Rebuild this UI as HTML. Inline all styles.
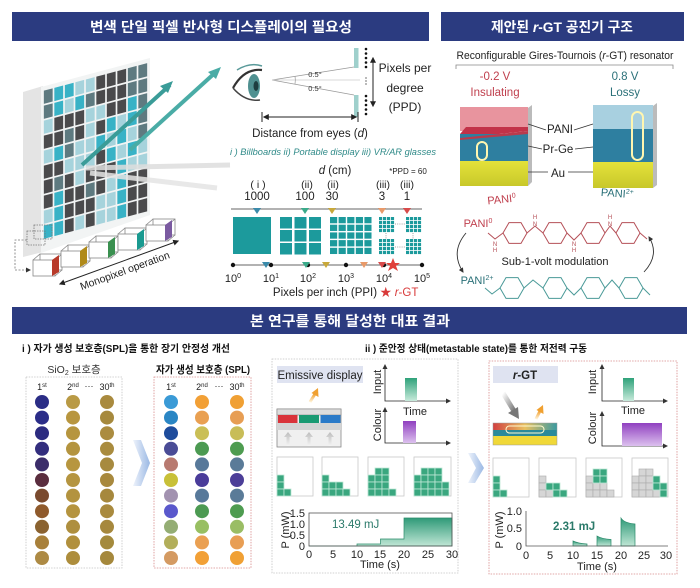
<!DOCTYPE html>
<html><head><meta charset="utf-8">
<style>
html,body{margin:0;padding:0;background:#fff;}
svg{display:block;}
text{font-family:"Liberation Sans","Noto Sans CJK KR",sans-serif;}
.D{fill:#4a4a4c}.S{fill:#5e7a80}.C{fill:#38b2c6}.L{fill:#a6d3dc}
.g{fill:#3aa77f;stroke:#bfe8d6;stroke-width:.8}
.y{fill:#d6d6d6;stroke:#aaa;stroke-width:.6}
.pb{fill:#fff;stroke:#c8c8c8;stroke-width:.8}
</style></head><body>
<svg width="700" height="588" viewBox="0 0 700 588" xmlns="http://www.w3.org/2000/svg">
<defs>
<rect id="c" width=".84" height=".88"/>
<rect id="b" width="7" height="7"/>
<marker id="ah" viewBox="0 0 10 10" refX="8" refY="5" markerWidth="6" markerHeight="6" markerUnits="userSpaceOnUse" orient="auto-start-reverse"><path d="M0,0L10,5L0,10z" fill="#222"/></marker>
<marker id="ahs" viewBox="0 0 10 10" refX="8" refY="5" markerWidth="5" markerHeight="5" markerUnits="userSpaceOnUse" orient="auto-start-reverse"><path d="M0,0L10,5L0,10z" fill="#333"/></marker>
<pattern id="p5" width="8.6" height="7.7" patternUnits="userSpaceOnUse"><rect width="7.2" height="6.3" fill="#1c9a9c"/></pattern>
<pattern id="sm" width="4" height="4" patternUnits="userSpaceOnUse"><rect width="3.2" height="3.2" fill="#1c9a9c"/></pattern>
<linearGradient id="gr" x1="0" y1="0" x2="0" y2="1"><stop offset="0" stop-color="#2fa27a"/><stop offset="1" stop-color="#c8eadb"/></linearGradient>
<linearGradient id="pu" x1="0" y1="0" x2="0" y2="1"><stop offset="0" stop-color="#9040c0"/><stop offset="1" stop-color="#dcc0ee"/></linearGradient>
<linearGradient id="chev" x1="0" y1="0" x2="1" y2="0"><stop offset="0" stop-color="#eef3fb"/><stop offset="1" stop-color="#9ab8e4"/></linearGradient>
<linearGradient id="yel" x1="0" y1="0" x2="0" y2="1"><stop offset="0" stop-color="#e4e23a"/><stop offset="1" stop-color="#c8c82a"/></linearGradient>
<linearGradient id="top" x1="0" y1="0" x2="1" y2="0"><stop offset="0" stop-color="#d24040"/><stop offset=".5" stop-color="#e8c060"/><stop offset="1" stop-color="#3a9aa0"/></linearGradient>
<linearGradient id="pf" x1="0" y1="0" x2="0" y2="1"><stop offset="0" stop-color="#2f9a78"/><stop offset="1" stop-color="#bfe6d5"/></linearGradient>
<linearGradient id="gra" x1="0" y1="0" x2="1" y2="1"><stop offset="0" stop-color="#ffffff"/><stop offset="1" stop-color="#777"/></linearGradient>
<linearGradient id="ua" x1="0" y1="1" x2="0" y2="0"><stop offset="0" stop-color="#f4f4f4"/><stop offset="1" stop-color="#bcbcbc"/></linearGradient>
<linearGradient id="oa" x1="0" y1="1" x2="0" y2="0"><stop offset="0" stop-color="#fff3d8"/><stop offset="1" stop-color="#f0a030"/></linearGradient>
</defs>

<!-- Headers -->
<rect x="12" y="12" width="417" height="29" fill="#2b3b80"/>
<text x="221" y="32" fill="#fff" font-size="14" font-weight="bold" text-anchor="middle" textLength="262" lengthAdjust="spacingAndGlyphs">변색 단일 픽셀 반사형 디스플레이의 필요성</text>
<rect x="441" y="12" width="243" height="29" fill="#2b3b80"/>
<text x="562" y="32" fill="#fff" font-size="14" font-weight="bold" text-anchor="middle" textLength="142" lengthAdjust="spacingAndGlyphs">제안된 <tspan font-style="italic">r</tspan>-GT 공진기 구조</text>
<rect x="12" y="307" width="675" height="27" fill="#2b3b80"/>
<text x="350" y="326" fill="#fff" font-size="14" font-weight="bold" text-anchor="middle" textLength="200" lengthAdjust="spacingAndGlyphs">본 연구를 통해 달성한 대표 결과</text>

<!-- Display panel -->
<polygon points="23,92 43,86 43,252 23,257" fill="#e4e4e4"/>
<polygon points="41,87 150,58 150,215 41,253" fill="#f2f4f4"/>
<g transform="matrix(10.5,-2.8,0,15,43,90)">
<use href="#c" x=".08" y=".06" class="S"/><use href="#c" x="1.08" y=".06" class="C"/><use href="#c" x="2.08" y=".06" class="C"/><use href="#c" x="3.08" y=".06" class="L"/><use href="#c" x="4.08" y=".06" class="L"/><use href="#c" x="5.08" y=".06" class="D"/><use href="#c" x="6.08" y=".06" class="D"/><use href="#c" x="7.08" y=".06" class="D"/><use href="#c" x="8.08" y=".06" class="S"/><use href="#c" x="9.08" y=".06" class="S"/>
<use href="#c" x=".08" y="1.06" class="S"/><use href="#c" x="1.08" y="1.06" class="C"/><use href="#c" x="2.08" y="1.06" class="L"/><use href="#c" x="3.08" y="1.06" class="C"/><use href="#c" x="4.08" y="1.06" class="S"/><use href="#c" x="5.08" y="1.06" class="D"/><use href="#c" x="6.08" y="1.06" class="D"/><use href="#c" x="7.08" y="1.06" class="D"/><use href="#c" x="8.08" y="1.06" class="S"/><use href="#c" x="9.08" y="1.06" class="S"/>
<use href="#c" x=".08" y="2.06" class="L"/><use href="#c" x="1.08" y="2.06" class="D"/><use href="#c" x="2.08" y="2.06" class="D"/><use href="#c" x="3.08" y="2.06" class="D"/><use href="#c" x="4.08" y="2.06" class="L"/><use href="#c" x="5.08" y="2.06" class="L"/><use href="#c" x="6.08" y="2.06" class="D"/><use href="#c" x="7.08" y="2.06" class="D"/><use href="#c" x="8.08" y="2.06" class="C"/><use href="#c" x="9.08" y="2.06" class="S"/>
<use href="#c" x=".08" y="3.06" class="D"/><use href="#c" x="1.08" y="3.06" class="D"/><use href="#c" x="2.08" y="3.06" class="S"/><use href="#c" x="3.08" y="3.06" class="D"/><use href="#c" x="4.08" y="3.06" class="L"/><use href="#c" x="5.08" y="3.06" class="D"/><use href="#c" x="6.08" y="3.06" class="C"/><use href="#c" x="7.08" y="3.06" class="L"/><use href="#c" x="8.08" y="3.06" class="C"/><use href="#c" x="9.08" y="3.06" class="S"/>
<use href="#c" x=".08" y="4.06" class="L"/><use href="#c" x="1.08" y="4.06" class="C"/><use href="#c" x="2.08" y="4.06" class="S"/><use href="#c" x="3.08" y="4.06" class="L"/><use href="#c" x="4.08" y="4.06" class="L"/><use href="#c" x="5.08" y="4.06" class="C"/><use href="#c" x="6.08" y="4.06" class="L"/><use href="#c" x="7.08" y="4.06" class="C"/><use href="#c" x="8.08" y="4.06" class="L"/><use href="#c" x="9.08" y="4.06" class="S"/>
<use href="#c" x=".08" y="5.06" class="D"/><use href="#c" x="1.08" y="5.06" class="D"/><use href="#c" x="2.08" y="5.06" class="L"/><use href="#c" x="3.08" y="5.06" class="L"/><use href="#c" x="4.08" y="5.06" class="L"/><use href="#c" x="5.08" y="5.06" class="D"/><use href="#c" x="6.08" y="5.06" class="C"/><use href="#c" x="7.08" y="5.06" class="L"/><use href="#c" x="8.08" y="5.06" class="C"/><use href="#c" x="9.08" y="5.06" class="L"/>
<use href="#c" x=".08" y="6.06" class="D"/><use href="#c" x="1.08" y="6.06" class="S"/><use href="#c" x="2.08" y="6.06" class="D"/><use href="#c" x="3.08" y="6.06" class="L"/><use href="#c" x="4.08" y="6.06" class="D"/><use href="#c" x="5.08" y="6.06" class="D"/><use href="#c" x="6.08" y="6.06" class="D"/><use href="#c" x="7.08" y="6.06" class="C"/><use href="#c" x="8.08" y="6.06" class="L"/><use href="#c" x="9.08" y="6.06" class="L"/>
<use href="#c" x=".08" y="7.06" class="D"/><use href="#c" x="1.08" y="7.06" class="C"/><use href="#c" x="2.08" y="7.06" class="D"/><use href="#c" x="3.08" y="7.06" class="D"/><use href="#c" x="4.08" y="7.06" class="S"/><use href="#c" x="5.08" y="7.06" class="D"/><use href="#c" x="6.08" y="7.06" class="L"/><use href="#c" x="7.08" y="7.06" class="C"/><use href="#c" x="8.08" y="7.06" class="D"/><use href="#c" x="9.08" y="7.06" class="D"/>
<use href="#c" x=".08" y="8.06" class="L"/><use href="#c" x="1.08" y="8.06" class="C"/><use href="#c" x="2.08" y="8.06" class="D"/><use href="#c" x="3.08" y="8.06" class="D"/><use href="#c" x="4.08" y="8.06" class="D"/><use href="#c" x="5.08" y="8.06" class="L"/><use href="#c" x="6.08" y="8.06" class="L"/><use href="#c" x="7.08" y="8.06" class="C"/><use href="#c" x="8.08" y="8.06" class="D"/><use href="#c" x="9.08" y="8.06" class="D"/>
<use href="#c" x=".08" y="9.06" class="C"/><use href="#c" x="1.08" y="9.06" class="C"/><use href="#c" x="2.08" y="9.06" class="D"/><use href="#c" x="3.08" y="9.06" class="L"/><use href="#c" x="4.08" y="9.06" class="D"/><use href="#c" x="5.08" y="9.06" class="L"/><use href="#c" x="6.08" y="9.06" class="L"/><use href="#c" x="7.08" y="9.06" class="C"/><use href="#c" x="8.08" y="9.06" class="D"/><use href="#c" x="9.08" y="9.06" class="D"/>
</g>
<!-- faint arrows -->
<line x1="86" y1="168" x2="230" y2="165" stroke="#dedede" stroke-width="5" opacity=".85"/>
<line x1="90" y1="173" x2="217" y2="188" stroke="#e4e4e4" stroke-width="5" opacity=".85"/>
<!-- teal arrows -->
<line x1="82" y1="165" x2="170" y2="85" stroke="#3a9c98" stroke-width="4"/>
<polygon points="173,81 160,86 168,93" fill="#3a9c98"/>
<line x1="130" y1="150" x2="217" y2="71" stroke="#4aaca6" stroke-width="4"/>
<polygon points="221,67 208,72 216,79" fill="#4aaca6"/>

<!-- monopixel cubes -->
<g fill="none" stroke="#777" stroke-width=".8">
<rect x="27" y="231" width="18" height="14" stroke-dasharray="1.5,1"/><rect x="34" y="225" width="18" height="14" stroke-dasharray="1.5,1"/>
<polyline points="27,240 15,240 15,270 30,270" stroke-dasharray="2,1.5" marker-end="url(#ahs)"/>
</g>
<g stroke="#888" stroke-width=".8" fill="none">
<rect x="40" y="254" width="22" height="16"/><rect x="33" y="260" width="22" height="16" fill="#fff"/><line x1="33" y1="260" x2="40" y2="254"/><line x1="55" y1="260" x2="62" y2="254"/><line x1="55" y1="276" x2="62" y2="270"/>
<rect x="68" y="245" width="22" height="16"/><rect x="61" y="251" width="22" height="16" fill="#fff"/><line x1="61" y1="251" x2="68" y2="245"/><line x1="83" y1="251" x2="90" y2="245"/><line x1="83" y1="267" x2="90" y2="261"/>
<rect x="96" y="236" width="22" height="16"/><rect x="89" y="242" width="22" height="16" fill="#fff"/><line x1="89" y1="242" x2="96" y2="236"/><line x1="111" y1="242" x2="118" y2="236"/><line x1="111" y1="258" x2="118" y2="252"/>
<rect x="125" y="228" width="22" height="16"/><rect x="118" y="234" width="22" height="16" fill="#fff"/><line x1="118" y1="234" x2="125" y2="228"/><line x1="140" y1="234" x2="147" y2="228"/><line x1="140" y1="250" x2="147" y2="244"/>
<rect x="153" y="219" width="22" height="16"/><rect x="146" y="225" width="22" height="16" fill="#fff"/><line x1="146" y1="225" x2="153" y2="219"/><line x1="168" y1="225" x2="175" y2="219"/><line x1="168" y1="241" x2="175" y2="235"/>
</g>
<polygon points="52,260 59,255 59,272 52,276" fill="#b83a2a"/>
<polygon points="80,251 87,246 87,263 80,267" fill="#b08a1a"/>
<polygon points="108,242 115,237 115,254 108,258" fill="#3a9050"/>
<polygon points="137,234 144,229 144,246 137,250" fill="#1a9a90"/>
<polygon points="165,225 172,220 172,237 165,241" fill="#7a5aa0"/>
<line x1="60" y1="284" x2="178" y2="241" stroke="#222" stroke-width="1" marker-start="url(#ah)" marker-end="url(#ah)"/>
<text x="126" y="274" font-size="10.5" text-anchor="middle" fill="#222" transform="rotate(-20 126 274)">Monopixel operation</text>

<!-- Eye -->
<path d="M233,88 Q244,68 262,70" fill="none" stroke="#333" stroke-width="2.2"/>
<path d="M237,70 Q250,62 262,66" fill="none" stroke="#5a9a9a" stroke-width="1.5"/>
<path d="M233,88 Q245,102 260,100" fill="none" stroke="#444" stroke-width="1.5"/>
<ellipse cx="254" cy="86" rx="6" ry="12" fill="#4f9090"/>
<ellipse cx="256" cy="86" rx="2.5" ry="5" fill="#1e3e40"/>
<!-- angle lines -->
<g stroke="#999" stroke-width=".7" fill="none">
<line x1="272" y1="80" x2="354" y2="67"/><line x1="272" y1="80" x2="354" y2="95"/><line x1="272" y1="80" x2="360" y2="80" stroke="#ccc"/>
<path d="M295,76 A24 24 0 0 1 295,84"/>
</g>
<text x="315" y="77" font-size="7.5" text-anchor="middle" fill="#333">0.5°</text>
<text x="315" y="91" font-size="7.5" text-anchor="middle" fill="#333">0.5°</text>
<rect x="354" y="48" width="4.5" height="20" fill="#9fd0cc"/>
<rect x="354" y="95" width="4.5" height="22" fill="#9fd0cc"/>
<g fill="#111">
<circle cx="366" cy="49" r="1.3"/><circle cx="366" cy="53.5" r="1.3"/><circle cx="366" cy="58" r="1.3"/><circle cx="366" cy="62.5" r="1.3"/><circle cx="366" cy="67" r="1.3"/>
<circle cx="366" cy="78" r=".6"/><circle cx="366" cy="81" r=".6"/><circle cx="366" cy="84" r=".6"/>
<circle cx="366" cy="96" r="1.3"/><circle cx="366" cy="100.5" r="1.3"/><circle cx="366" cy="105" r="1.3"/><circle cx="366" cy="109.5" r="1.3"/><circle cx="366" cy="114" r="1.3"/>
</g>
<line x1="373" y1="58" x2="373" y2="106" stroke="#222" stroke-width="1" marker-start="url(#ah)" marker-end="url(#ah)"/>
<text x="405" y="72" font-size="12" text-anchor="middle" fill="#222">Pixels per</text>
<text x="405" y="92" font-size="12" text-anchor="middle" fill="#222">degree</text>
<text x="405" y="111" font-size="12" text-anchor="middle" fill="#222">(PPD)</text>
<line x1="264" y1="117" x2="356" y2="117" stroke="#222" stroke-width="1" marker-start="url(#ah)" marker-end="url(#ah)"/>
<line x1="262" y1="112" x2="262" y2="122" stroke="#222" stroke-width="1"/>
<line x1="358" y1="112" x2="358" y2="122" stroke="#222" stroke-width="1"/>
<text x="310" y="137" font-size="11.5" text-anchor="middle" fill="#222">Distance from eyes (<tspan font-style="italic">d</tspan>)</text>
<text x="230" y="155" font-size="9" font-style="italic" fill="#2f8a88" textLength="206" lengthAdjust="spacingAndGlyphs">i ) Billboards  ii) Portable display  iii) VR/AR glasses</text>

<!-- PPI scale -->
<text x="335" y="174" font-size="11.5" text-anchor="middle" fill="#222"><tspan font-style="italic">d</tspan> (cm)</text>
<text x="408" y="174" font-size="8" text-anchor="middle" fill="#222">*PPD = 60</text>
<g font-size="10.5" text-anchor="middle" fill="#222">
<text x="258" y="188">( i )</text><text x="307" y="188">(ii)</text><text x="333" y="188">(ii)</text><text x="383" y="188">(iii)</text><text x="407" y="188">(iii)</text>
</g>
<g font-size="11.5" text-anchor="middle" fill="#222">
<text x="257" y="200">1000</text><text x="305" y="200">100</text><text x="332" y="200">30</text><text x="382" y="200">3</text><text x="407" y="200">1</text>
</g>
<line x1="231" y1="209" x2="422" y2="209" stroke="#666" stroke-width="1"/>
<polygon points="253,208 261,208 257,214" fill="#3a8aaa"/>
<polygon points="301,208 309,208 305,214" fill="#3aaa8a"/>
<polygon points="328,208 336,208 332,214" fill="#c8a83a"/>
<polygon points="378,208 386,208 382,214" fill="#e89a6a"/>
<polygon points="403,208 411,208 407,214" fill="#d84a4a"/>
<rect x="233" y="217" width="38" height="37" fill="#1c9a9c"/>
<g fill="#1c9a9c">
<rect x="280" y="217" width="12" height="11.5"/><rect x="294.5" y="217" width="12" height="11.5"/><rect x="309" y="217" width="12" height="11.5"/>
<rect x="280" y="230" width="12" height="11.5"/><rect x="294.5" y="230" width="12" height="11.5"/><rect x="309" y="230" width="12" height="11.5"/>
<rect x="280" y="243" width="12" height="11.5"/><rect x="294.5" y="243" width="12" height="11.5"/><rect x="309" y="243" width="12" height="11.5"/>
</g>
<g transform="translate(330 217)"><rect width="41.6" height="37.1" fill="url(#p5)"/></g>
<g transform="translate(379 217)"><rect width="15.2" height="15.2" fill="url(#sm)"/></g>
<g transform="translate(406 217)"><rect width="15.2" height="15.2" fill="url(#sm)"/></g>
<g transform="translate(379 239)"><rect width="15.2" height="15.2" fill="url(#sm)"/></g>
<g transform="translate(406 239)"><rect width="15.2" height="15.2" fill="url(#sm)"/></g>
<g stroke="#888" stroke-width=".8" stroke-dasharray="1,1.2">
<line x1="395" y1="224" x2="405" y2="224"/><line x1="395" y1="247" x2="405" y2="247"/><line x1="386" y1="233" x2="386" y2="239"/><line x1="413" y1="233" x2="413" y2="239"/>
</g>
<line x1="231" y1="265" x2="422" y2="265" stroke="#666" stroke-width="1"/>
<g fill="#111"><circle cx="233" cy="265" r="2.2"/><circle cx="271" cy="265" r="2.2"/><circle cx="308" cy="265" r="2.2"/><circle cx="346" cy="265" r="2.2"/><circle cx="384" cy="265" r="2.2"/><circle cx="422" cy="265" r="2.2"/></g>
<polygon points="262,262 270,262 266,268" fill="#3a8aaa"/>
<polygon points="302,262 310,262 306,268" fill="#3aaa8a"/>
<polygon points="322,262 330,262 326,268" fill="#c8a83a"/>
<polygon points="360,262 368,262 364,268" fill="#e89a6a"/>
<polygon points="378,262 386,262 382,268" fill="#d84a4a"/>
<polygon points="393,258 395,263 400,263 396,266 398,271 393,268 388,271 390,266 386,263 391,263" fill="#e0403a"/>
<g font-size="11" text-anchor="middle" fill="#222">
<text x="233" y="282">10<tspan font-size="7" dy="-4">0</tspan></text>
<text x="271" y="282">10<tspan font-size="7" dy="-4">1</tspan></text>
<text x="308" y="282">10<tspan font-size="7" dy="-4">2</tspan></text>
<text x="346" y="282">10<tspan font-size="7" dy="-4">3</tspan></text>
<text x="384" y="282">10<tspan font-size="7" dy="-4">4</tspan></text>
<text x="422" y="282">10<tspan font-size="7" dy="-4">5</tspan></text>
</g>
<text x="325" y="296" font-size="11.5" text-anchor="middle" fill="#222">Pixels per inch (PPI)</text>
<text x="380" y="296" font-size="11.5" fill="#d83a3a">★ <tspan font-style="italic">r</tspan>-GT</text>

<!-- r-GT structure -->
<text x="565" y="59" font-size="11" text-anchor="middle" fill="#222" textLength="217" lengthAdjust="spacingAndGlyphs">Reconfigurable Gires-Tournois (<tspan font-style="italic">r</tspan>-GT) resonator</text>
<polyline points="456,69 456,65 673,65 673,69" fill="none" stroke="#888" stroke-width=".8"/>
<text x="495" y="80" font-size="11.5" text-anchor="middle" fill="#c0404e">-0.2 V</text>
<text x="495" y="96" font-size="11.5" text-anchor="middle" fill="#c0404e">Insulating</text>
<text x="625" y="80" font-size="11.5" text-anchor="middle" fill="#2a7078">0.8 V</text>
<text x="625" y="96" font-size="11.5" text-anchor="middle" fill="#2a7078">Lossy</text>
<!-- left block -->
<polygon points="528,108 532,105 532,182 528,186" fill="#bbb"/>
<rect x="460" y="107" width="68" height="24" fill="#e8949e"/>
<polygon points="460,134 466,127 528,127 528,131 460,138" fill="#c23248"/>
<rect x="460" y="134" width="68" height="28" fill="#2e7fa0"/>
<polygon points="460,138 528,131 528,134 460,140" fill="#b93a4c"/>
<rect x="460" y="161" width="68" height="25" fill="url(#yel)"/>
<rect x="477" y="142" width="10" height="18" rx="5" fill="none" stroke="#fff6b0" stroke-width="2"/>
<!-- right block -->
<polygon points="653,106 657,103 657,185 653,188" fill="#bbb"/>
<rect x="593" y="105" width="60" height="24" fill="#a8d0e0"/>
<rect x="593" y="129" width="60" height="33" fill="#2e7fa0"/>
<rect x="593" y="162" width="60" height="26" fill="url(#yel)"/>
<rect x="632" y="112" width="11" height="48" rx="5.5" fill="none" stroke="#fff6b0" stroke-width="2"/>
<g stroke="#333" stroke-width=".8">
<line x1="528" y1="124" x2="546" y2="130"/><line x1="574" y1="130" x2="593" y2="124"/>
<line x1="528" y1="146" x2="542" y2="149"/><line x1="575" y1="149" x2="593" y2="147"/>
<line x1="528" y1="172" x2="548" y2="172"/><line x1="568" y1="172" x2="593" y2="172"/>
</g>
<text x="560" y="133" font-size="11.5" text-anchor="middle" fill="#222">PANI</text>
<text x="558" y="153" font-size="11.5" text-anchor="middle" fill="#222">Pr-Ge</text>
<text x="558" y="177" font-size="11.5" text-anchor="middle" fill="#222">Au</text>
<text x="502" y="203" font-size="11" text-anchor="middle" fill="#c0404e" transform="rotate(-6 502 203)">PANI<tspan font-size="7" dy="-4">0</tspan></text>
<text x="617" y="197" font-size="11" text-anchor="middle" fill="#2a7078" transform="rotate(4 617 197)">PANI<tspan font-size="7" dy="-4">2+</tspan></text>
<!-- chemistry -->
<text x="478" y="227" font-size="11" text-anchor="middle" fill="#c0404e">PANI<tspan font-size="7" dy="-4">0</tspan></text>
<g fill="none" stroke="#b55058" stroke-width="1">
<polygon points="503,233 509,222.6 521,222.6 527,233 521,243.4 509,243.4"/>
<polygon points="543,233 549,222.6 561,222.6 567,233 561,243.4 549,243.4"/>
<polygon points="581,233 587,222.6 599,222.6 605,233 599,243.4 587,243.4"/>
<polygon points="616,233 622,222.6 634,222.6 640,233 634,243.4 622,243.4"/>
<polyline points="488,233 495,239 503,233"/>
<polyline points="527,233 535,226 543,233"/>
<polyline points="567,233 574,240 581,233"/>
<polyline points="605,233 610,226 616,233"/>
<polyline points="640,233 647,239"/>
</g>
<g font-size="6" fill="#b55058" text-anchor="middle">
<text x="495" y="246">N</text><text x="495" y="252">H</text>
<text x="535" y="226">N</text><text x="535" y="219">H</text>
<text x="574" y="246">N</text><text x="574" y="252">H</text>
<text x="610" y="226">N</text><text x="610" y="219">H</text>
</g>
<text x="555" y="265" font-size="11" text-anchor="middle" fill="#222">Sub-1-volt modulation</text>
<text x="477" y="284" font-size="11" text-anchor="middle" fill="#2a7078">PANI<tspan font-size="7" dy="-4">2+</tspan></text>
<g fill="none" stroke="#4a9a98" stroke-width="1">
<polygon points="500,288 506,277.6 518,277.6 524,288 518,298.4 506,298.4"/>
<polygon points="543,288 549,277.6 561,277.6 567,288 561,298.4 549,298.4"/>
<polygon points="581,288 587,277.6 599,277.6 605,288 599,298.4 587,298.4"/>
<polygon points="619,288 625,277.6 637,277.6 643,288 637,298.4 625,298.4"/>
<polyline points="485,288 492,294 500,288"/>
<polyline points="524,288 533,280 543,288"/>
<polyline points="567,288 574,295 581,288"/>
<polyline points="605,288 612,280 619,288"/>
<polyline points="643,288 650,295"/>
</g>
<path d="M466,233 Q450,252 463,272" fill="none" stroke="#333" stroke-width=".9" marker-end="url(#ahs)"/>
<path d="M644,272 Q660,255 649,237" fill="none" stroke="#333" stroke-width=".9" marker-end="url(#ahs)"/>

<!-- Bottom left -->
<text x="22" y="352" font-size="10" font-weight="bold" fill="#111" textLength="208" lengthAdjust="spacingAndGlyphs">i ) 자가 생성 보호층(SPL)을 통한 장기 안정성 개선</text>
<text x="74" y="373" font-size="10.5" text-anchor="middle" fill="#333">SiO<tspan font-size="7" dy="2">2</tspan><tspan dy="-2"> 보호층</tspan></text>
<text x="203" y="373" font-size="10.5" font-weight="bold" text-anchor="middle" fill="#111" textLength="94" lengthAdjust="spacingAndGlyphs">자가 생성 보호층 (SPL)</text>
<rect x="26" y="377" width="96" height="191" fill="none" stroke="#c4c4c4" stroke-width=".8" stroke-dasharray="1.5,1.2"/>
<rect x="154" y="377" width="97" height="191" fill="none" stroke="#d88a8a" stroke-width=".8" stroke-dasharray="1.5,1.2"/>
<g font-size="9" text-anchor="middle" fill="#222">
<text x="42" y="390">1<tspan font-size="6" dy="-3">st</tspan></text>
<text x="73" y="390">2<tspan font-size="6" dy="-3">nd</tspan></text>
<text x="89" y="389">···</text>
<text x="107" y="390">30<tspan font-size="6" dy="-3">th</tspan></text>
<text x="171" y="390">1<tspan font-size="6" dy="-3">st</tspan></text>
<text x="202" y="390">2<tspan font-size="6" dy="-3">nd</tspan></text>
<text x="219" y="389">···</text>
<text x="237" y="390">30<tspan font-size="6" dy="-3">th</tspan></text>
</g>
<g>
<circle cx="42" cy="402" r="7" fill="#2b2d86"/><circle cx="42" cy="417.6" r="7" fill="#2b2d88"/><circle cx="42" cy="433.2" r="7" fill="#2c2b80"/><circle cx="42" cy="448.8" r="7" fill="#332e7e"/><circle cx="42" cy="464.4" r="7" fill="#3b2d6a"/><circle cx="42" cy="480" r="7" fill="#5a2d3e"/><circle cx="42" cy="495.6" r="7" fill="#7a4a2e"/><circle cx="42" cy="511.2" r="7" fill="#8f5a2c"/><circle cx="42" cy="526.8" r="7" fill="#8a6230"/><circle cx="42" cy="542.4" r="7" fill="#a8803a"/><circle cx="42" cy="558" r="7" fill="#ad8a44"/>
<circle cx="73" cy="402" r="7" fill="#b99a45"/><circle cx="73" cy="417.6" r="7" fill="#b8963f"/><circle cx="73" cy="433.2" r="7" fill="#b6953e"/><circle cx="73" cy="448.8" r="7" fill="#b4943f"/><circle cx="73" cy="464.4" r="7" fill="#b7963f"/><circle cx="73" cy="480" r="7" fill="#b59540"/><circle cx="73" cy="495.6" r="7" fill="#b3933f"/><circle cx="73" cy="511.2" r="7" fill="#b5943f"/><circle cx="73" cy="526.8" r="7" fill="#ae8f3f"/><circle cx="73" cy="542.4" r="7" fill="#b1903d"/><circle cx="73" cy="558" r="7" fill="#ad8d3c"/>
<circle cx="107" cy="402" r="7" fill="#a98a3e"/><circle cx="107" cy="417.6" r="7" fill="#a6893d"/><circle cx="107" cy="433.2" r="7" fill="#ab8c40"/><circle cx="107" cy="448.8" r="7" fill="#a98b3e"/><circle cx="107" cy="464.4" r="7" fill="#a78a3f"/><circle cx="107" cy="480" r="7" fill="#a8893e"/><circle cx="107" cy="495.6" r="7" fill="#a6883d"/><circle cx="107" cy="511.2" r="7" fill="#a98a3e"/><circle cx="107" cy="526.8" r="7" fill="#a6883d"/><circle cx="107" cy="542.4" r="7" fill="#a48a3c"/><circle cx="107" cy="558" r="7" fill="#a5883c"/>
<circle cx="171" cy="402" r="7" fill="#3a9ad6"/><circle cx="171" cy="417.6" r="7" fill="#2a86c4"/><circle cx="171" cy="433.2" r="7" fill="#1e4c9c"/><circle cx="171" cy="448.8" r="7" fill="#4a4c96"/><circle cx="171" cy="464.4" r="7" fill="#b87a70"/><circle cx="171" cy="480" r="7" fill="#c8c038"/><circle cx="171" cy="495.6" r="7" fill="#a292b0"/><circle cx="171" cy="511.2" r="7" fill="#5a58cc"/><circle cx="171" cy="526.8" r="7" fill="#94ad74"/><circle cx="171" cy="542.4" r="7" fill="#b2ae5a"/><circle cx="171" cy="558" r="7" fill="#d49a62"/>
<circle cx="202" cy="402" r="7" fill="#f2a036"/><circle cx="202" cy="417.6" r="7" fill="#e9a052"/><circle cx="202" cy="433.2" r="7" fill="#cabf56"/><circle cx="202" cy="448.8" r="7" fill="#4c9a52"/><circle cx="202" cy="464.4" r="7" fill="#58799a"/><circle cx="202" cy="480" r="7" fill="#4a3c9a"/><circle cx="202" cy="495.6" r="7" fill="#58799a"/><circle cx="202" cy="511.2" r="7" fill="#4c9a52"/><circle cx="202" cy="526.8" r="7" fill="#98bf62"/><circle cx="202" cy="542.4" r="7" fill="#eaa052"/><circle cx="202" cy="558" r="7" fill="#f2a036"/>
<circle cx="237" cy="402" r="7" fill="#f0a034"/><circle cx="237" cy="417.6" r="7" fill="#e79e54"/><circle cx="237" cy="433.2" r="7" fill="#c8bd58"/><circle cx="237" cy="448.8" r="7" fill="#4e9c50"/><circle cx="237" cy="464.4" r="7" fill="#5a7b98"/><circle cx="237" cy="480" r="7" fill="#4c3e98"/><circle cx="237" cy="495.6" r="7" fill="#5a7b98"/><circle cx="237" cy="511.2" r="7" fill="#4e9c50"/><circle cx="237" cy="526.8" r="7" fill="#9abd64"/><circle cx="237" cy="542.4" r="7" fill="#e89e54"/><circle cx="237" cy="558" r="7" fill="#f0a034"/>
</g>
<polygon points="133,440 141,440 150,463 141,486 133,486 142,463" fill="url(#chev)"/>

<!-- Bottom middle -->
<text x="365" y="352" font-size="10" font-weight="bold" fill="#111" textLength="222" lengthAdjust="spacingAndGlyphs">ii ) 준안정 상태(metastable state)를 통한 저전력 구동</text>
<rect x="272" y="359" width="186" height="214" fill="none" stroke="#c4c4c4" stroke-width=".8" stroke-dasharray="1.5,1.2"/>
<rect x="277" y="366" width="86" height="17" fill="#dfe3f1"/>
<text x="320" y="379" font-size="11.5" text-anchor="middle" fill="#222">Emissive display</text>
<!-- orange emission arrow -->
<line x1="310" y1="402" x2="315" y2="394" stroke="url(#oa)" stroke-width="3"/>
<polygon points="318,388 318.5,397 311.5,393" fill="#f0a030"/>
<rect x="277" y="409" width="64" height="38" fill="#f0f0f0" stroke="#888" stroke-width=".8"/>
<rect x="277" y="409" width="64" height="6" fill="#ddd" stroke="#888" stroke-width=".6"/>
<rect x="278" y="415" width="19.5" height="8" fill="#d9333a"/>
<rect x="299" y="415" width="20" height="8" fill="#1a9a72"/>
<rect x="320.5" y="415" width="20" height="8" fill="#2a7ac8"/>
<rect x="277" y="423" width="64" height="7" fill="#d4d4d4"/>
<g fill="url(#ua)">
<polygon points="286.5,446 289.5,446 289.5,437 292,437 288,432 284,437 286.5,437"/>
<polygon points="307.5,446 310.5,446 310.5,437 313,437 309,432 305,437 307.5,437"/>
<polygon points="328.5,446 331.5,446 331.5,437 334,437 330,432 326,437 328.5,437"/>
</g>
<g stroke="#222" stroke-width=".8" fill="none">
<polyline points="385,365 385,401 450,401" marker-start="url(#ahs)" marker-end="url(#ahs)"/>
<polyline points="385,408 385,443 450,443" marker-start="url(#ahs)" marker-end="url(#ahs)"/>
</g>
<rect x="405" y="378" width="12" height="23" fill="url(#gr)"/>
<rect x="403" y="421" width="13" height="22" fill="url(#pu)"/>
<text transform="translate(381 382) rotate(-90)" font-size="11" text-anchor="middle" fill="#222">Input</text>
<text transform="translate(381 425) rotate(-90)" font-size="11" text-anchor="middle" fill="#222">Colour</text>
<text x="415" y="415" font-size="11" text-anchor="middle" fill="#222">Time</text>
<!-- pixel boxes middle -->
<rect x="277" y="457" width="36" height="39" class="pb"/>
<rect x="322" y="457" width="36" height="39" class="pb"/>
<rect x="368" y="457" width="36" height="39" class="pb"/>
<rect x="414" y="457" width="37" height="39" class="pb"/>
<g class="g">
<use href="#b" x="277" y="475"/><use href="#b" x="277" y="482"/><use href="#b" x="277" y="489"/><use href="#b" x="284" y="489"/>
<use href="#b" x="322" y="475"/><use href="#b" x="322" y="482"/><use href="#b" x="322" y="489"/><use href="#b" x="329" y="482"/><use href="#b" x="329" y="489"/><use href="#b" x="336" y="482"/><use href="#b" x="336" y="489"/><use href="#b" x="343" y="489"/>
<use href="#b" x="368" y="475"/><use href="#b" x="368" y="482"/><use href="#b" x="368" y="489"/><use href="#b" x="375" y="468"/><use href="#b" x="375" y="475"/><use href="#b" x="375" y="482"/><use href="#b" x="375" y="489"/><use href="#b" x="382" y="468"/><use href="#b" x="382" y="475"/><use href="#b" x="382" y="482"/><use href="#b" x="382" y="489"/><use href="#b" x="389" y="489"/>
<use href="#b" x="414" y="475"/><use href="#b" x="414" y="482"/><use href="#b" x="414" y="489"/><use href="#b" x="421" y="468"/><use href="#b" x="421" y="475"/><use href="#b" x="421" y="482"/><use href="#b" x="421" y="489"/><use href="#b" x="428" y="468"/><use href="#b" x="428" y="475"/><use href="#b" x="428" y="482"/><use href="#b" x="428" y="489"/><use href="#b" x="435" y="468"/><use href="#b" x="435" y="475"/><use href="#b" x="435" y="482"/><use href="#b" x="435" y="489"/><use href="#b" x="442" y="482"/><use href="#b" x="442" y="489"/>
</g>
<!-- power graph middle -->
<path d="M309,546 L357,546 L357,544 L380.5,544 L380.5,539 L404,539 L404,518 L452,518 L452,546 Z" fill="url(#pf)" stroke="#2a8a6a" stroke-width=".7"/>
<rect x="309" y="513" width="143" height="33" fill="none" stroke="#555" stroke-width=".8"/>
<g font-size="11" fill="#222" text-anchor="end">
<text x="305" y="517">1.5</text><text x="305" y="528">1.0</text><text x="305" y="539">0.5</text><text x="305" y="550">0</text>
</g>
<g font-size="11" fill="#222" text-anchor="middle">
<text x="309" y="558">0</text><text x="333" y="558">5</text><text x="357" y="558">10</text><text x="380" y="558">15</text><text x="404" y="558">20</text><text x="428" y="558">25</text><text x="452" y="558">30</text>
<text x="380" y="568">Time (s)</text>
</g>
<text transform="translate(289 530) rotate(-90)" font-size="11" text-anchor="middle" fill="#222">P (mW)</text>
<text x="332" y="528" font-size="11.5" fill="#2b7a6a">13.49 mJ</text>
<polygon points="468,453 475,453 484,468 475,483 468,483 476,468" fill="url(#chev)"/>

<!-- Bottom right -->
<rect x="489" y="361" width="188" height="213" fill="none" stroke="#d88a8a" stroke-width=".8" stroke-dasharray="1.5,1.2"/>
<rect x="493" y="366" width="65" height="17" fill="#dfe3f1"/>
<text x="525" y="379" font-size="11.5" font-weight="bold" text-anchor="middle" fill="#222"><tspan font-style="italic">r</tspan>-GT</text>
<line x1="503" y1="393" x2="514" y2="411" stroke="url(#gra)" stroke-width="5"/>
<polygon points="519,419 508,413 518,407" fill="#777"/>
<line x1="536" y1="419" x2="540" y2="411" stroke="url(#oa)" stroke-width="3"/>
<polygon points="543,405 543.5,414 536.5,410" fill="#f0a030"/>
<rect x="493" y="423" width="64" height="7" fill="url(#top)"/>
<rect x="493" y="430" width="64" height="6" fill="#2a8a9a"/>
<rect x="493" y="436" width="64" height="9" fill="#f0d838"/>
<rect x="506" y="426" width="38" height="7" rx="3.5" fill="none" stroke="#fffbd0" stroke-width="1"/>
<rect x="493" y="423" width="64" height="22" fill="none" stroke="#999" stroke-width=".5"/>
<g stroke="#222" stroke-width=".8" fill="none">
<polyline points="602,365 602,401 667,401" marker-start="url(#ahs)" marker-end="url(#ahs)"/>
<polyline points="602,412 602,446 667,446" marker-start="url(#ahs)" marker-end="url(#ahs)"/>
</g>
<rect x="623" y="378" width="11" height="23" fill="url(#gr)"/>
<rect x="622" y="423" width="40" height="23" fill="url(#pu)"/>
<text transform="translate(596 382) rotate(-90)" font-size="11" text-anchor="middle" fill="#222">Input</text>
<text transform="translate(596 428) rotate(-90)" font-size="11" text-anchor="middle" fill="#222">Colour</text>
<text x="633" y="414" font-size="11" text-anchor="middle" fill="#222">Time</text>
<rect x="493" y="458" width="36" height="39" class="pb"/>
<rect x="539" y="458" width="37" height="39" class="pb"/>
<rect x="586" y="458" width="36" height="39" class="pb"/>
<rect x="632" y="458" width="36" height="39" class="pb"/>
<g class="y">
<use href="#b" x="539" y="476"/><use href="#b" x="539" y="483"/><use href="#b" x="539" y="490"/><use href="#b" x="546" y="490"/>
<use href="#b" x="586" y="476"/><use href="#b" x="586" y="483"/><use href="#b" x="593" y="483"/><use href="#b" x="600" y="483"/><use href="#b" x="586" y="490"/><use href="#b" x="593" y="490"/><use href="#b" x="600" y="490"/><use href="#b" x="607" y="490"/>
<use href="#b" x="639" y="469"/><use href="#b" x="646" y="469"/><use href="#b" x="632" y="476"/><use href="#b" x="639" y="476"/><use href="#b" x="646" y="476"/><use href="#b" x="632" y="483"/><use href="#b" x="639" y="483"/><use href="#b" x="646" y="483"/><use href="#b" x="632" y="490"/><use href="#b" x="639" y="490"/><use href="#b" x="646" y="490"/><use href="#b" x="653" y="490"/>
</g>
<g class="g">
<use href="#b" x="493" y="476"/><use href="#b" x="493" y="483"/><use href="#b" x="493" y="490"/><use href="#b" x="500" y="490"/>
<use href="#b" x="546" y="483"/><use href="#b" x="553" y="483"/><use href="#b" x="553" y="490"/><use href="#b" x="560" y="490"/>
<use href="#b" x="593" y="469"/><use href="#b" x="600" y="469"/><use href="#b" x="593" y="476"/><use href="#b" x="600" y="476"/>
<use href="#b" x="653" y="476"/><use href="#b" x="653" y="483"/><use href="#b" x="660" y="483"/><use href="#b" x="660" y="490"/>
</g>
<!-- power graph right -->
<g fill="url(#pf)" stroke="#2a8a6a" stroke-width=".7">
<path d="M573,546 L573,541 Q578,543.5 587,544 L587,546 Z"/>
<path d="M597,546 L597,536 Q602,539 611,539.5 L611,546 Z"/>
<path d="M621,546 L621,518 Q624,523 635,524 L635,546 Z"/>
</g>
<polyline points="526,511 526,546 668,546" fill="none" stroke="#555" stroke-width=".8"/>
<g font-size="11" fill="#222" text-anchor="end">
<text x="522" y="515">1.0</text><text x="522" y="532">0.5</text><text x="522" y="550">0</text>
</g>
<g font-size="11" fill="#222" text-anchor="middle">
<text x="526" y="559">0</text><text x="550" y="559">5</text><text x="573" y="559">10</text><text x="597" y="559">15</text><text x="621" y="559">20</text><text x="644" y="559">25</text><text x="666" y="559">30</text>
<text x="597" y="570">Time (s)</text>
</g>
<text transform="translate(503 530) rotate(-90)" font-size="11" text-anchor="middle" fill="#222">P (mW)</text>
<text x="553" y="530" font-size="11.5" font-weight="bold" fill="#2b7a6a">2.31 mJ</text>
</svg>
</body></html>
